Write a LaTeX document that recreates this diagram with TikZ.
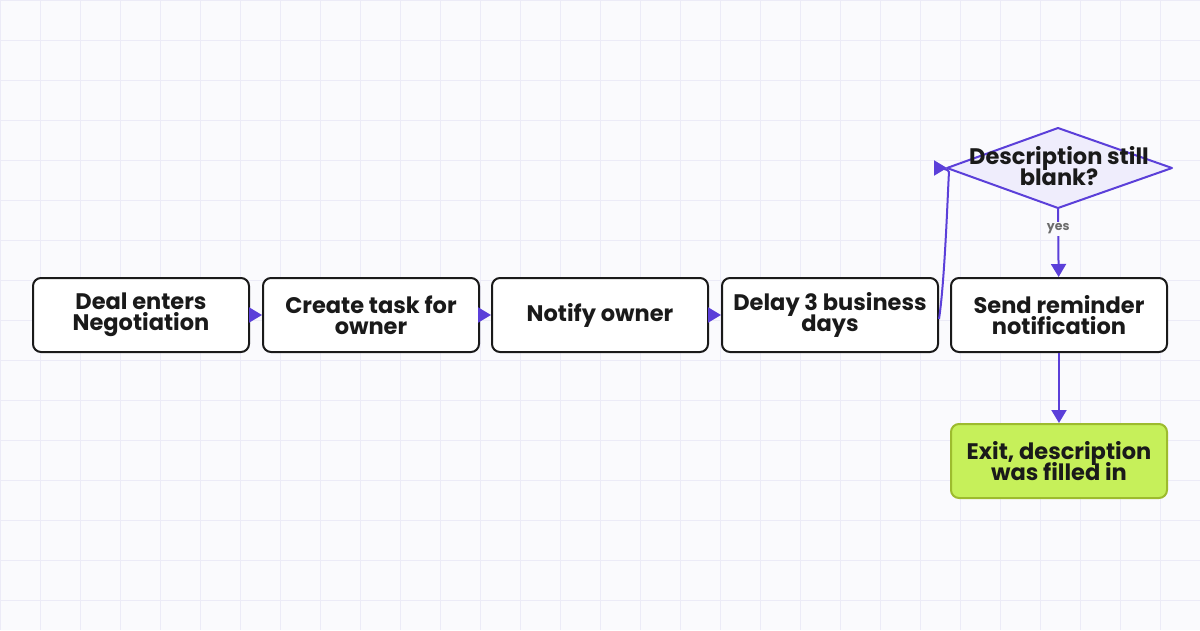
\documentclass[tikz,border=0pt]{standalone}
\usepackage{fontspec}
\setmainfont{Poppins}
\usetikzlibrary{arrows.meta,shapes.geometric}
\definecolor{bg}{HTML}{FAFAFD}
\definecolor{gridc}{HTML}{ECEBF7}
\definecolor{edge}{HTML}{5B3FD9}
\definecolor{ink}{HTML}{1A1A1A}
\definecolor{dfill}{HTML}{EFEDFC}
\definecolor{gfill}{HTML}{C6F05A}
\definecolor{gdraw}{HTML}{9DBB2E}
\begin{document}
\begin{tikzpicture}[x=1pt,y=-1pt,
  txt/.style={align=center,font={\fontsize{22.5}{21}\selectfont\bfseries\lineskiplimit=-100pt\lineskip=0pt},text=ink},
  stepbox/.style={txt,draw=ink,line width=2pt,rounded corners=8pt,fill=white,minimum width=216pt,minimum height=74pt,inner sep=0pt},
  exitbox/.style={stepbox,draw=gdraw,fill=gfill},
  flow/.style={draw=edge,line width=2pt,-{Triangle[length=13pt,width=15pt]}},
  lbl/.style={font=\fontsize{12.5}{13}\selectfont\bfseries,text=gray!85!black,fill=bg,inner sep=2pt}
]
\useasboundingbox (0,0) rectangle (1200,630);
\fill[bg] (0,0) rectangle (1200,630);
\foreach \x in {0,40,...,1200} \draw[gridc,line width=1pt] (\x,0) -- (\x,630);
\foreach \y in {0,40,...,620} \draw[gridc,line width=1pt] (0,\y) -- (1200,\y);

\coordinate (dtop) at (1058,128);
\coordinate (dright) at (1172,168);
\coordinate (dbot) at (1058,208);
\coordinate (dw) at (947,168);

\node[stepbox] (a) at (141,315) {Deal enters\\Negotiation};
\node[stepbox] (b) at (371,315) {Create task for\\owner};
\node[stepbox] (c) at (600,315) {Notify owner};
\node[stepbox] (d) at (830,315) {Delay 3 business\\days};
\node[stepbox] (e) at (1059,315) {Send reminder\\notification};
\node[exitbox] (f) at (1059,461) {Exit, description\\was filled in};
\draw[edge,line width=2pt,fill=dfill,line join=round] (dtop) -- (dright) -- (dbot) -- (dw) -- cycle;
\node[txt,inner sep=0pt] (dia) at (1059,166) {Description still\\blank?};

\draw[flow] (a) -- (b);
\draw[flow] (b) -- (c);
\draw[flow] (c) -- (d);
\draw[flow] ([yshift=-4pt]d.east) .. controls (945,280) and (948,185) .. (949,172) .. controls (949,169) and (940,168) .. (dw);
\draw[flow] (dbot) -- node[lbl,pos=0.3] {yes} (e);
\draw[flow] (e) -- (f);
\end{tikzpicture}
\end{document}
